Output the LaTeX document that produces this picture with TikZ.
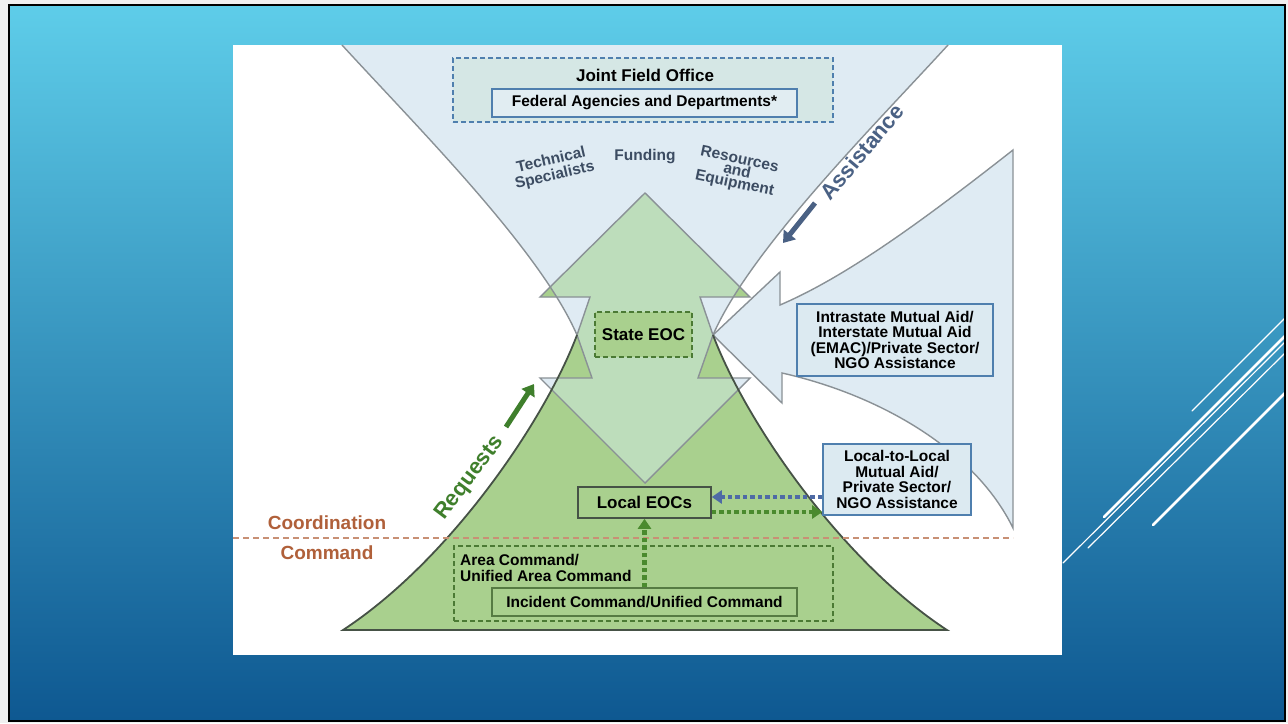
\documentclass[tikz,border=0pt]{standalone}
\usepackage{fontspec}
\setmainfont{Liberation Sans}
\usetikzlibrary{arrows.meta}

\definecolor{pagegray}{RGB}{240,240,240}
\definecolor{slidetop}{RGB}{94,205,233}
\definecolor{slidebot}{RGB}{14,88,145}
\definecolor{funnelblue}{RGB}{223,235,243}
\definecolor{hillgreen}{RGB}{169,208,142}
\definecolor{arrowgreen}{RGB}{189,221,187}
\definecolor{edgegray}{RGB}{138,145,150}
\definecolor{hilledge}{RGB}{70,82,70}
\definecolor{boxblue}{RGB}{79,127,174}
\definecolor{darkgreen}{RGB}{75,122,52}
\definecolor{slate}{RGB}{60,76,98}
\definecolor{assistblue}{RGB}{74,97,132}
\definecolor{reqgreen}{RGB}{63,127,44}
\definecolor{rust}{RGB}{176,96,58}
\definecolor{dotblue}{RGB}{78,106,165}
\definecolor{dotgreen}{RGB}{74,138,46}
\definecolor{jfofill}{RGB}{213,231,229}
\definecolor{fedfill}{RGB}{225,237,242}
\definecolor{aidfill}{RGB}{220,234,241}

\newcommand{\fsz}[2]{\fontsize{#1}{#2}\selectfont}

\tikzset{
	edge/.style = {draw=edgegray, line width=1.4},
	bluebox/.style = {draw=boxblue, line width=1.6, fill=#1, inner sep=0pt, align=center, font=\bfseries\fsz{15.5}{15.6}},
	greenbox/.style = {draw=#1, line width=1.6, fill=hillgreen, inner sep=0pt, align=center, font=\bfseries\fsz{17}{18}},
	dashbox/.style = {draw=#1, line width=1.3, dash pattern=on 5pt off 3pt, inner sep=0pt},
	toplabel/.style = {text=slate, align=center, inner sep=0pt, font=\bfseries\fsz{15.5}{#1}},
	bigarr/.style = {line width=5, -{Triangle[length=11pt, width=15pt]}},
	dotarr/.style = {line width=4.5, dash pattern=on 4.5pt off 3pt, -{Triangle[length=10pt, width=13pt]}}
}

\begin{document}
\begin{tikzpicture}[x=1pt, y=-1pt]
	\useasboundingbox (0,0) rectangle (1288,723);
	% slide
	\fill[pagegray] (0,0) rectangle (1288,723);
	\shade[top color=slidetop, bottom color=slidebot] (9,5) rectangle (1285,721);
	\begin{scope}
		\clip (9,5) rectangle (1285,721);
		\draw[white, line width=1.2, line cap=round] (1192,411) -- (1285,318)
			(1063,563) -- (1285,342)
			(1088,548) -- (1285,353);
		\draw[white, line width=2.8, line cap=round] (1104,517) -- (1285,336)
			(1153,525) -- (1285,393);
	\end{scope}
	\draw[black, line width=2.5] (9,5) rectangle (1285,721);
	\fill[white] (233,45) rectangle (1062,655);

	% hourglass
	\fill[funnelblue] (342,45) .. controls (420,130) and (540,250) .. (577,335) -- (713,335) .. controls (750,250) and (870,130) .. (948,45) -- cycle;
	\filldraw[fill=funnelblue, edge] (1013,150) .. controls (930,215) and (850,275) .. (780,305) -- (780,272) -- (713,335) -- (782,403) -- (782,373) .. controls (880,395) and (975,450) .. (1013,528) -- cycle;
	\fill[hillgreen] (577,335) .. controls (545,420) and (450,560) .. (343,630) -- (947,630) .. controls (840,560) and (745,420) .. (713,335) -- cycle;
	\begin{scope}
		\clip (645,193) -- (750,297) -- (700,297) -- (713,335) -- (698,378) -- (750,378) -- (645,483) -- (540,378) -- (592,378) -- (577,335) -- (590,297) -- (540,297) -- cycle;
		\fill[arrowgreen] (233,45) rectangle (1062,655);
		\fill[hillgreen] (233,45) -- (342,45) .. controls (420,130) and (540,250) .. (577,335) -- (233,335) -- cycle
			(1062,45) -- (948,45) .. controls (870,130) and (750,250) .. (713,335) -- (1062,335) -- cycle;
		\fill[funnelblue] (233,335) -- (577,335) .. controls (545,420) and (450,560) .. (343,630) -- (233,630) -- cycle
			(1062,335) -- (713,335) .. controls (745,420) and (840,560) .. (947,630) -- (1062,630) -- cycle;
	\end{scope}
	\draw[edge] (645,193) -- (750,297) -- (700,297) -- (713,335) -- (698,378) -- (750,378) -- (645,483) -- (540,378) -- (592,378) -- (577,335) -- (590,297) -- (540,297) -- cycle;
	\draw[edge] (342,45) .. controls (420,130) and (540,250) .. (577,335);
	\draw[edge] (948,45) .. controls (870,130) and (750,250) .. (713,335);
	\draw[hilledge, line width=1.8] (577,335) .. controls (545,420) and (450,560) .. (343,630) -- (947,630) .. controls (840,560) and (745,420) .. (713,335);

	% coordination / command
	\draw[rust!70, line width=1.3, dash pattern=on 6pt off 4pt] (233,538) -- (1013,538);
	\node[text=rust, font=\bfseries\fsz{19}{20}] (coord) at (327,523) {Coordination};
	\node[text=rust, font=\bfseries\fsz{19}{20}] (cmd) at (327,553) {Command};

	% federal level
	\node[dashbox=boxblue, fill=jfofill, minimum width=380, minimum height=64] (jfo) at (643,90) {};
	\node[font=\bfseries\fsz{17}{18}] (jfotxt) at (645,75) {Joint Field Office};
	\node[bluebox=fedfill, minimum width=305, minimum height=28] (fed) at (644.5,103) {Federal Agencies and Departments*};
	\node[toplabel=16, rotate=13] (tech) at (553,168) {Technical\\Specialists};
	\node[toplabel=16] (fund) at (645,157) {Funding};
	\node[toplabel=12, rotate=-12] (res) at (737,172) {Resources\\and\\Equipment};

	% state and local
	\node[dashbox=darkgreen, fill=hillgreen, minimum width=97, minimum height=45, font=\bfseries\fsz{17}{18}] (seoc) at (643.5,334.5) {State EOC};
	\node[greenbox=hilledge, minimum width=133, minimum height=31] (leoc) at (644.5,502.5) {Local EOCs};
	\node[dashbox=darkgreen, minimum width=379, minimum height=75] (area) at (643.5,583.5) {};
	\node[anchor=west, align=left, inner sep=0pt, font=\bfseries\fsz{15.5}{16}] (areatxt) at (460,568) {Area Command/\\Unified Area Command};
	\node[greenbox=darkgreen!80!gray, line width=1.4, font=\bfseries\fsz{15.5}{16}, minimum width=305, minimum height=28] (ic) at (644.5,602) {Incident Command/Unified Command};

	% mutual aid
	\node[bluebox=aidfill, minimum width=196, minimum height=72] (intra) at (895,340) {Intrastate Mutual Aid/\\Interstate Mutual Aid\\(EMAC)/Private Sector/\\NGO Assistance};
	\node[bluebox=aidfill, minimum width=148, minimum height=71] (ltl) at (897,479.5) {Local-to-Local\\Mutual Aid/\\Private Sector/\\NGO Assistance};

	% flows
	\node[text=assistblue, rotate=50, font=\bfseries\fsz{22}{24}] (assist) at (862,152) {Assistance};
	\coordinate (asA) at (815,203);
	\coordinate (asB) at (783,243);
	\draw[bigarr, assistblue] (asA) -- (asB);
	\node[text=reqgreen, rotate=53, font=\bfseries\fsz{22}{24}] (req) at (470,478) {Requests};
	\coordinate (rqA) at (506,427);
	\coordinate (rqB) at (534,384);
	\draw[bigarr, reqgreen] (rqA) -- (rqB);
	\draw[dotarr, dotblue] ([yshift=5.5pt]leoc.east -| ltl.west) -- ([yshift=5.5pt]leoc.east);
	\draw[dotarr, dotgreen] ([yshift=-9.5pt]leoc.east) -- ([yshift=-9.5pt]leoc.east -| ltl.west);
	\draw[dotarr, dotgreen] (ic.north -| leoc.south) -- (leoc.south);
\end{tikzpicture}
\end{document}
